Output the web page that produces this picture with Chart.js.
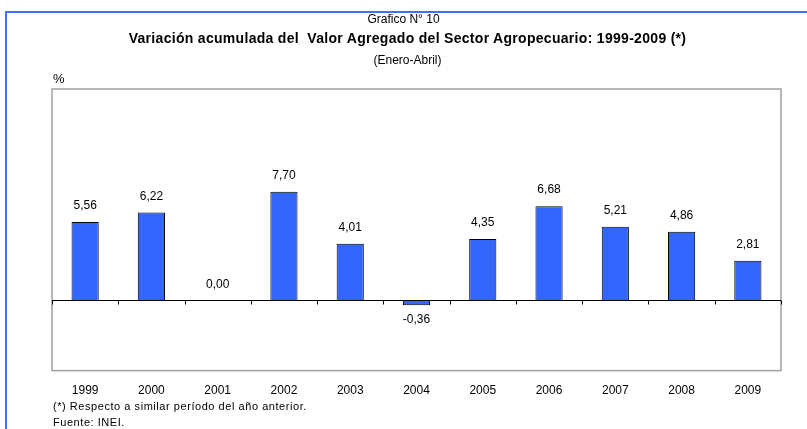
<!DOCTYPE html>
<html>
<head>
<meta charset="utf-8">
<script src="https://cdn.jsdelivr.net/npm/chart.js@4/dist/chart.umd.min.js"></script>
<style>
  html, body { margin: 0; padding: 0; background: #fff; }
  body { width: 807px; height: 429px; position: relative; overflow: hidden; font-family: "Liberation Sans", Arial, sans-serif; color: #000; }
  #frame { position: absolute; left: 5px; top: 11px; width: 900px; height: 500px; border-top: 2px solid #3f6ffb; border-left: 2px solid #3f6ffb; }
  canvas { position: absolute; left: 0; top: 0; }
  .t { position: absolute; white-space: nowrap; }
  #num { left: 0; width: 807px; top: 12px; text-align: center; font-size: 12px; }
  #title { left: 4px; width: 807px; top: 30px; text-align: center; font-size: 14px; font-weight: bold; letter-spacing: 0.3px; }
  #sub { left: 4px; width: 807px; top: 53px; text-align: center; font-size: 12px; }
  #pct { left: 53px; top: 71px; font-size: 13px; }
  #note { left: 53px; top: 400px; font-size: 11px; letter-spacing: 0.55px; }
  #src { left: 53px; top: 416px; font-size: 11px; letter-spacing: 0.55px; }
</style>
</head>
<body>
<div id="frame"></div>
<canvas id="chart" width="807" height="429"></canvas>
<div class="t" id="num">Grafico N° 10</div>
<div class="t" id="title">Variación acumulada del &nbsp;Valor Agregado del Sector Agropecuario: 1999-2009 (*)</div>
<div class="t" id="sub">(Enero-Abril)</div>
<div class="t" id="pct">%</div>
<div class="t" id="note">(*) Respecto a similar período del año anterior.</div>
<div class="t" id="src">Fuente: INEI.</div>
<script>
const years = ['1999', '2000', '2001', '2002', '2003', '2004', '2005', '2006', '2007', '2008', '2009']
const variacion = [5.56, 6.22, 0.00, 7.70, 4.01, -0.36, 4.35, 6.68, 5.21, 4.86, 2.81]
const yMin = -5
const yMax = 15

// box around the plot, zero line with ticks between categories
const framePlugin = {
    id: 'framePlugin',
    afterDraw(chart) {
        const ctx = chart.ctx
        const a = chart.chartArea
        const x = chart.scales.x
        const y0 = Math.round(chart.scales.y.getPixelForValue(0)) + 0.5
        ctx.save()
        ctx.strokeStyle = '#a0a0a0'
        ctx.lineWidth = 1.5
        ctx.strokeRect(a.left, a.top, a.right - a.left, a.bottom - a.top)
        ctx.strokeStyle = '#000'
        ctx.lineWidth = 1
        ctx.beginPath()
        ctx.moveTo(a.left, y0)
        ctx.lineTo(a.right, y0)
        for (let i = 0; i <= years.length; i++) {
            const px = Math.round(x.getPixelForValue(i - 0.5)) + 0.5
            ctx.moveTo(px, y0)
            ctx.lineTo(px, y0 + 4)
        }
        ctx.stroke()
        ctx.restore()
    }
}

// value labels above / below each bar
const labelPlugin = {
    id: 'labelPlugin',
    afterDatasetsDraw(chart) {
        const ctx = chart.ctx
        const meta = chart.getDatasetMeta(0)
        ctx.save()
        ctx.font = '12px "Liberation Sans", Arial, sans-serif'
        ctx.fillStyle = '#000'
        ctx.textAlign = 'center'
        ctx.textBaseline = 'middle'
        meta.data.forEach((bar, i) => {
            const v = variacion[i]
            const txt = v.toFixed(2).replace('.', ',')
            const ty = v < 0 ? bar.y + 14 : bar.y - 16
            ctx.fillText(txt, bar.x, ty)
        })
        ctx.restore()
    }
}

new Chart(document.getElementById('chart'), {
    type: 'bar',
    data: {
        labels: years,
        datasets: [{
            data: variacion,
            backgroundColor: '#3366ff',
            borderColor: '#000',
            borderWidth: 1,
            categoryPercentage: 1,
            barPercentage: 0.41
        }]
    },
    options: {
        responsive: false,
        animation: false,
        layout: { padding: { left: 52, right: 26, top: 89, bottom: 18 } },
        plugins: { legend: { display: false }, tooltip: { enabled: false } },
        scales: {
            y: { display: false, min: yMin, max: yMax },
            x: {
                grid: { display: false, drawTicks: false },
                border: { display: false },
                ticks: { color: '#000', padding: 13, font: { family: '"Liberation Sans", Arial, sans-serif', size: 12 } }
            }
        }
    },
    plugins: [framePlugin, labelPlugin]
})
</script>
</body>
</html>
